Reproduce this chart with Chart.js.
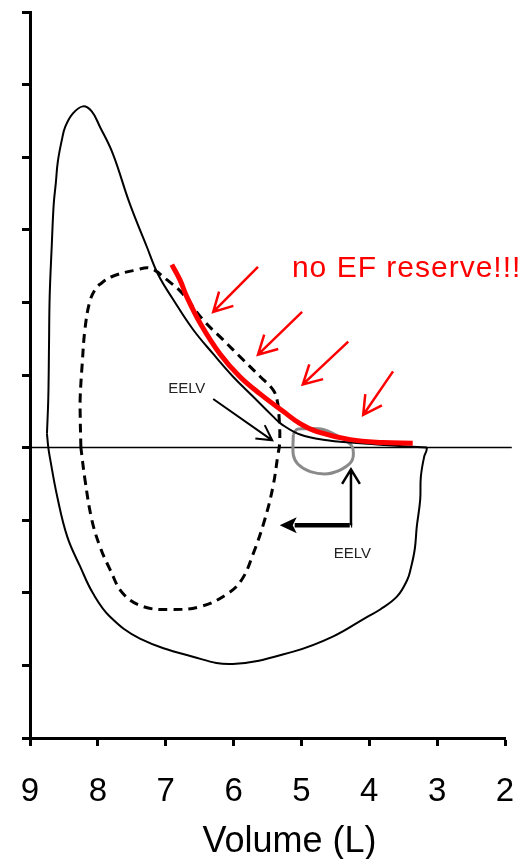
<!DOCTYPE html>
<html>
<head>
<meta charset="utf-8">
<script src="https://cdn.jsdelivr.net/npm/chart.js@4.4.0/dist/chart.umd.min.js"></script>
<style>
  html, body { margin: 0; padding: 0; background: #fff; }
  #wrap { width: 522px; height: 859px; }
</style>
</head>
<body>
<div id="wrap"><canvas id="loopChart" width="522" height="859"></canvas></div>
<script>
// Maximal flow-volume envelope, expiratory limb (volume L, flow L/s)
const maxExpVol  = [8.75, 8.73, 8.72, 8.71, 8.68, 8.65, 8.62, 8.59, 8.53, 8.48, 8.37, 8.22, 8.09, 7.97, 7.78, 7.53, 7.28, 7.11, 6.89, 6.60, 6.30, 6.01, 5.71, 5.42, 5.29, 5.02, 4.62, 4.28, 3.84, 3.15];
const maxExpFlow = [0.19, 0.70, 1.39, 2.08, 2.77, 3.36, 3.64, 3.94, 4.24, 4.42, 4.60, 4.70, 4.63, 4.42, 4.05, 3.36, 2.77, 2.38, 2.04, 1.63, 1.29, 0.98, 0.70, 0.43, 0.32, 0.18, 0.10, 0.07, 0.04, 0.00];

// Maximal envelope, inspiratory limb
const maxInspVol  = [3.15, 3.16, 3.19, 3.24, 3.25, 3.30, 3.33, 3.39, 3.44, 3.59, 3.84, 4.03, 4.53, 5.12, 6.01, 6.60, 7.38, 7.82, 8.07, 8.26, 8.45, 8.60, 8.71, 8.73, 8.75];
const maxInspFlow = [0.00, -0.05, -0.12, -0.40, -0.72, -1.09, -1.40, -1.67, -1.82, -2.05, -2.23, -2.33, -2.60, -2.81, -2.98, -2.88, -2.63, -2.33, -2.01, -1.64, -1.23, -0.67, -0.12, 0.00, 0.19];

// Exercise tidal loop (dashed)
const exVol  = [8.25, 8.26, 8.26, 8.23, 8.19, 8.12, 8.04, 7.97, 7.78, 7.42, 7.23, 6.98, 6.75, 6.45, 6.16, 5.86, 5.61, 5.42, 5.36, 5.33, 5.32, 5.35, 5.42, 5.54, 5.71, 5.88, 6.10, 6.49, 6.94, 7.33, 7.63, 7.82, 7.97, 8.09, 8.19, 8.25];
const exFlow = [0.00, 0.43, 0.70, 1.16, 1.63, 2.01, 2.18, 2.25, 2.36, 2.45, 2.47, 2.31, 2.12, 1.76, 1.49, 1.21, 0.98, 0.80, 0.66, 0.43, 0.08, -0.12, -0.54, -0.99, -1.46, -1.82, -2.02, -2.19, -2.23, -2.19, -2.01, -1.68, -1.36, -0.99, -0.44, 0.00];

// Resting tidal loop (grey)
const restVol  = [5.12, 5.07, 4.98, 4.68, 4.39, 4.25, 4.25, 4.39, 4.61, 4.87, 5.05, 5.12, 5.12];
const restFlow = [0.18, 0.25, 0.26, 0.25, 0.12, 0.01, -0.17, -0.29, -0.36, -0.33, -0.23, -0.10, 0.18];

// Flow limitation curve (red)
const limitVol  = [6.91, 6.79, 6.69, 6.49, 6.20, 5.91, 5.61, 5.27, 5.02, 4.77, 4.28, 3.80, 3.36];
const limitFlow = [2.52, 2.31, 2.08, 1.71, 1.29, 0.98, 0.74, 0.50, 0.33, 0.22, 0.11, 0.07, 0.06];

// Zero-flow line
const baseVol  = [9, 1.9];
const baseFlow = [0, 0];

// Axis ticks
const volTicks = [9, 8, 7, 6, 5, 4, 3, 2];
const flowMin = -4, flowMax = 6;
const volTitle = 'Volume (L)';

// Arrows as [fromVol, fromFlow, toVol, toFlow]
const reserveArrows = [
  [5.64, 2.49, 6.30, 1.87],
  [4.99, 1.87, 5.64, 1.28],
  [4.31, 1.46, 4.98, 0.87],
  [3.65, 1.05, 4.09, 0.45]
];
const eelvArrow      = [6.30, 0.67, 5.43, 0.10];
const eelvUpArrow    = [4.27, -1.07, 4.27, -0.30];
const eelvShiftArrow = [4.27, -1.07, 5.32, -1.07];

// Text labels as [vol, flow]
const noteText = 'no EF reserve!!!';
const notePos = [5.14, 2.47];
const eelvText = 'EELV';
const eelvPos = [[6.69, 0.81], [4.25, -1.46]];

const zip = (xs, ys) => xs.map((x, i) => ({ x, y: ys[i] }));

function openArrow(ctx, x0, y0, x1, y1, head, spread) {
  const a = Math.atan2(y1 - y0, x1 - x0);
  ctx.beginPath();
  ctx.moveTo(x0, y0);
  ctx.lineTo(x1, y1);
  ctx.moveTo(x1 - head * Math.cos(a - spread), y1 - head * Math.sin(a - spread));
  ctx.lineTo(x1, y1);
  ctx.lineTo(x1 - head * Math.cos(a + spread), y1 - head * Math.sin(a + spread));
  ctx.stroke();
}

function solidArrow(ctx, x0, y0, x1, y1, head, half) {
  const a = Math.atan2(y1 - y0, x1 - x0);
  const bx = x1 - head * Math.cos(a), by = y1 - head * Math.sin(a);
  ctx.beginPath();
  ctx.moveTo(x0, y0);
  ctx.lineTo(bx + 2 * Math.cos(a), by + 2 * Math.sin(a));
  ctx.stroke();
  ctx.beginPath();
  ctx.moveTo(x1, y1);
  ctx.lineTo(bx + half * Math.sin(a), by - half * Math.cos(a));
  ctx.lineTo(bx + 4 * Math.cos(a), by + 4 * Math.sin(a));
  ctx.lineTo(bx - half * Math.sin(a), by + half * Math.cos(a));
  ctx.closePath();
  ctx.fill();
}

/* Arrows and notes placed in data units */
const annotations = {
  id: 'annotations',
  afterDatasetsDraw(chart) {
    const { ctx, scales: { x, y } } = chart;
    const P = (v, f) => [x.getPixelForValue(v), y.getPixelForValue(f)];
    ctx.save();
    ctx.lineCap = 'butt';
    ctx.lineJoin = 'miter';

    ctx.strokeStyle = '#ff0000';
    ctx.lineWidth = 2.5;
    reserveArrows.forEach(a => {
      const [x0, y0] = P(a[0], a[1]);
      const [x1, y1] = P(a[2], a[3]);
      openArrow(ctx, x0, y0, x1, y1, 21, 0.5);
    });

    ctx.strokeStyle = '#000';
    ctx.fillStyle = '#000';
    ctx.lineWidth = 2;
    let [x0, y0] = P(eelvArrow[0], eelvArrow[1]);
    let [x1, y1] = P(eelvArrow[2], eelvArrow[3]);
    openArrow(ctx, x0, y0, x1, y1, 17, 0.5);

    ctx.lineWidth = 2.5;
    [x0, y0] = P(eelvUpArrow[0], eelvUpArrow[1]);
    [x1, y1] = P(eelvUpArrow[2], eelvUpArrow[3]);
    openArrow(ctx, x0, y0, x1, y1, 17, 0.55);

    ctx.lineWidth = 4.5;
    [x0, y0] = P(eelvShiftArrow[0], eelvShiftArrow[1]);
    [x1, y1] = P(eelvShiftArrow[2], eelvShiftArrow[3]);
    ctx.beginPath();
    ctx.moveTo(x0 + 1.2, y0);
    ctx.lineTo(x0, y0);
    ctx.stroke();
    solidArrow(ctx, x0 - 1.2, y0, x1, y1, 17, 8);

    ctx.textAlign = 'center';
    ctx.textBaseline = 'middle';
    ctx.font = '15px "Liberation Sans", Arial, sans-serif';
    ctx.fillStyle = '#222';
    eelvPos.forEach(p => {
      const [tx, ty] = P(p[0], p[1]);
      ctx.fillText(eelvText, tx, ty);
    });

    ctx.textAlign = 'left';
    ctx.fillStyle = '#ff0000';
    ctx.font = '30px "Liberation Sans", Arial, sans-serif';
    ctx.letterSpacing = '1px';
    const [nx, ny] = P(notePos[0], notePos[1]);
    ctx.fillText(noteText, nx, ny);
    ctx.restore();
  },
  // axis title sits a little right of the axis centre
  afterDraw(chart) {
    const { ctx, chartArea } = chart;
    ctx.save();
    ctx.font = '36px "Liberation Sans", Arial, sans-serif';
    ctx.fillStyle = '#000';
    ctx.textAlign = 'center';
    ctx.textBaseline = 'middle';
    ctx.fillText(volTitle, (chartArea.left + chartArea.right) / 2 + 22, chart.height - 17);
    ctx.restore();
  }
};

Chart.defaults.font.family = '"Liberation Sans", Arial, sans-serif';
Chart.defaults.color = '#000';

new Chart(document.getElementById('loopChart'), {
  type: 'scatter',
  data: {
    datasets: [
      { data: zip(limitVol, limitFlow), borderColor: '#ff0000', borderWidth: 5, tension: 0.4 },
      { data: zip(maxExpVol, maxExpFlow), borderColor: '#000', borderWidth: 2, tension: 0.4 },
      { data: zip(maxInspVol, maxInspFlow), borderColor: '#000', borderWidth: 2, tension: 0.4 },
      { data: zip(exVol, exFlow), borderColor: '#000', borderWidth: 3, borderDash: [9, 6], tension: 0.4 },
      { data: zip(restVol, restFlow), borderColor: '#8a8a8a', borderWidth: 3, tension: 0.3 },
      { data: zip(baseVol, baseFlow), borderColor: '#000', borderWidth: 1.5, tension: 0, clip: false }
    ].map(d => ({ showLine: true, pointRadius: 0, pointHoverRadius: 0, ...d }))
  },
  options: {
    responsive: false,
    animation: false,
    events: [],
    layout: { padding: { left: 22, right: 17, top: 12, bottom: 22 } },
    plugins: {
      legend: { display: false },
      tooltip: { enabled: false }
    },
    scales: {
      x: {
        type: 'linear',
        reverse: true,
        min: 2,
        max: 9,
        afterBuildTicks: axis => { axis.ticks = volTicks.map(v => ({ value: v })); },
        ticks: { font: { size: 33, lineHeight: '83px' }, padding: 4, maxRotation: 0 },
        grid: { drawOnChartArea: false, drawTicks: true, tickLength: 8, tickWidth: 3, tickColor: '#000' },
        border: { display: true, color: '#000', width: 3 }
      },
      y: {
        min: flowMin,
        max: flowMax,
        ticks: { display: false, stepSize: 1 },
        grid: { drawOnChartArea: false, drawTicks: true, tickLength: 8, tickWidth: 3, tickColor: '#000' },
        border: { display: true, color: '#000', width: 3 }
      }
    }
  },
  plugins: [annotations]
});
</script>
</body>
</html>
